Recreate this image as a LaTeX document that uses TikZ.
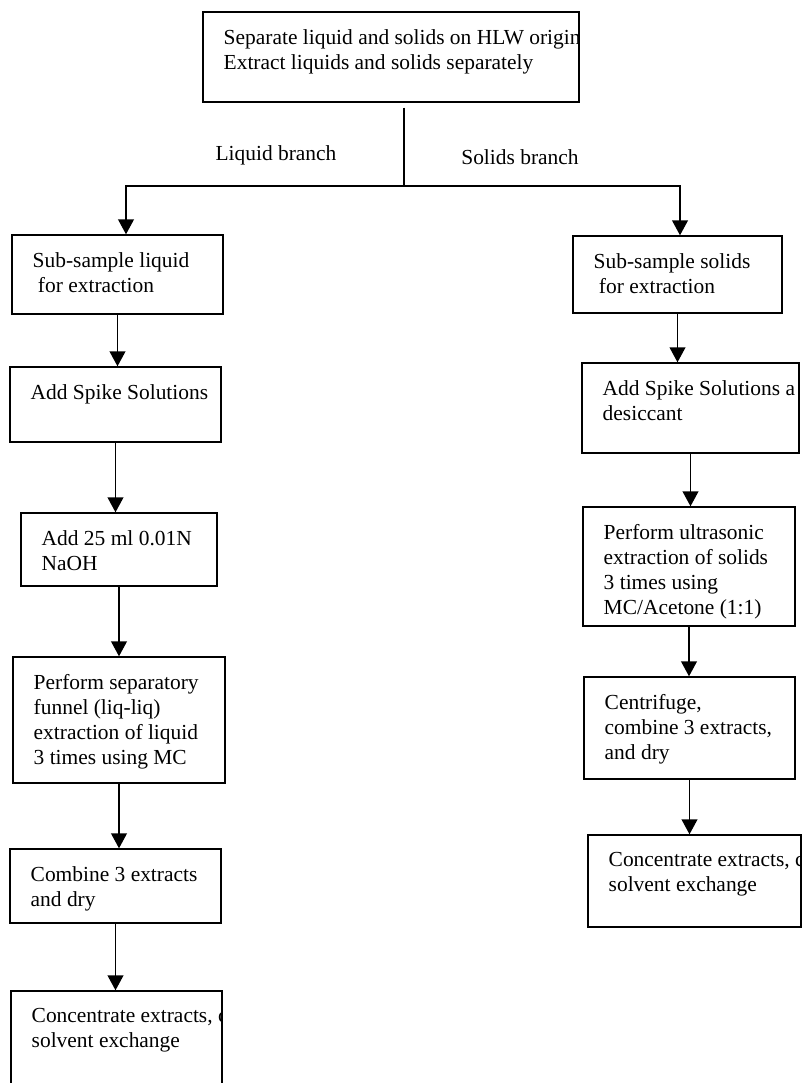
\documentclass[tikz,border=0pt]{standalone}
\usepackage{fontspec}
\setmainfont{Liberation Serif}
\usetikzlibrary{arrows.meta,positioning,calc}

\begin{document}
\begin{tikzpicture}[
    flowbox/.style={rectangle, draw, line width=0.8pt, inner sep=0pt},
    boxtext/.style={path picture={\node[anchor=north west, inner sep=0pt, align=left,
                    minimum width=0pt, minimum height=0pt,
                    font=\fontsize{12.2}{14.2}\selectfont]
                    at ([shift={(0.4,-0.33)}]path picture bounding box.north west) {#1};}},
    branchlbl/.style={font=\fontsize{12.2}{14.2}\selectfont, inner sep=0pt},
    arr/.style={-{Triangle[length=8.5pt, width=9pt]}, line width=0.8pt}
  ]
    \useasboundingbox (0,0) rectangle (16.06,-21.66);

    % Top box
    \node[flowbox, minimum width=7.52cm, minimum height=1.80cm,
          boxtext={Separate liquid and solids on HLW origin\\Extract liquids and solids separately}]
          (sep) at (7.82,-1.14) {};

    % Branch labels
    \node[branchlbl] (liqlbl) at (5.52,-3.10) {Liquid branch};
    \node[branchlbl] (sollbl) at (10.40,-3.14) {Solids branch};

    % Fork
    \coordinate (fork)  at (8.08,-3.72);
    \coordinate (lfork) at (2.52,-3.72);
    \coordinate (rfork) at (13.60,-3.72);
    \draw[line width=0.8pt] ([yshift=-0.1cm]fork |- sep.south) -- (fork);

    % Liquid branch
    \node[flowbox, minimum width=4.22cm, minimum height=1.58cm,
          boxtext={Sub-sample liquid\\\hspace*{3pt}for extraction}] (liq1) at (2.35,-5.49) {};
    \node[flowbox, minimum width=4.22cm, minimum height=1.50cm,
          boxtext={Add Spike Solutions}] (liq2) at (2.31,-8.09) {};
    \node[flowbox, minimum width=3.92cm, minimum height=1.46cm,
          boxtext={Add 25 ml 0.01N\\NaOH}] (liq3) at (2.38,-10.99) {};
    \node[flowbox, minimum width=4.24cm, minimum height=2.52cm,
          boxtext={Perform separatory\\funnel (liq-liq)\\extraction of liquid\\3 times using MC}] (liq4) at (2.38,-14.40) {};
    \node[flowbox, minimum width=4.22cm, minimum height=1.48cm,
          boxtext={Combine 3 extracts\\and dry}] (liq5) at (2.31,-17.72) {};
    \node[flowbox, minimum width=4.22cm, minimum height=2.08cm,
          boxtext={Concentrate extracts, c\\solvent exchange}] (liq6) at (2.33,-20.86) {};

    % Solids branch
    \node[flowbox, minimum width=4.18cm, minimum height=1.54cm,
          boxtext={Sub-sample solids\\\hspace*{3pt}for extraction}] (sol1) at (13.55,-5.49) {};
    \node[flowbox, minimum width=4.34cm, minimum height=1.80cm,
          boxtext={Add Spike Solutions a\\desiccant}] (sol2) at (13.81,-8.16) {};
    \node[flowbox, minimum width=4.24cm, minimum height=2.38cm,
          boxtext={Perform ultrasonic\\extraction of solids\\3 times using\\MC/Acetone (1:1)}] (sol3) at (13.78,-11.33) {};
    \node[flowbox, minimum width=4.22cm, minimum height=2.04cm,
          boxtext={Centrifuge,\\combine 3 extracts,\\and dry}] (sol4) at (13.79,-14.56) {};
    \node[flowbox, minimum width=4.26cm, minimum height=1.84cm,
          boxtext={Concentrate extracts, c\\solvent exchange}] (sol5) at (13.89,-17.62) {};

    % Arrows
    \draw[arr] (fork) -- (lfork) -- (lfork |- liq1.north);
    \draw[arr] (fork) -- (rfork) -- (rfork |- sol1.north);
    \draw[arr] (liq1.south) -- (liq1.south |- liq2.north);
    \draw[arr] (liq2.south) -- (liq2.south |- liq3.north);
    \draw[arr] (liq3.south) -- (liq3.south |- liq4.north);
    \draw[arr] (liq4.south) -- (liq4.south |- liq5.north);
    \draw[arr] (liq5.south) -- (liq5.south |- liq6.north);
    \draw[arr] (sol1.south) -- (sol1.south |- sol2.north);
    \draw[arr] (sol2.south) -- (sol2.south |- sol3.north);
    \draw[arr] (sol3.south) -- (sol3.south |- sol4.north);
    \draw[arr] (sol4.south) -- (sol4.south |- sol5.north);
  \end{tikzpicture}
\end{document}
